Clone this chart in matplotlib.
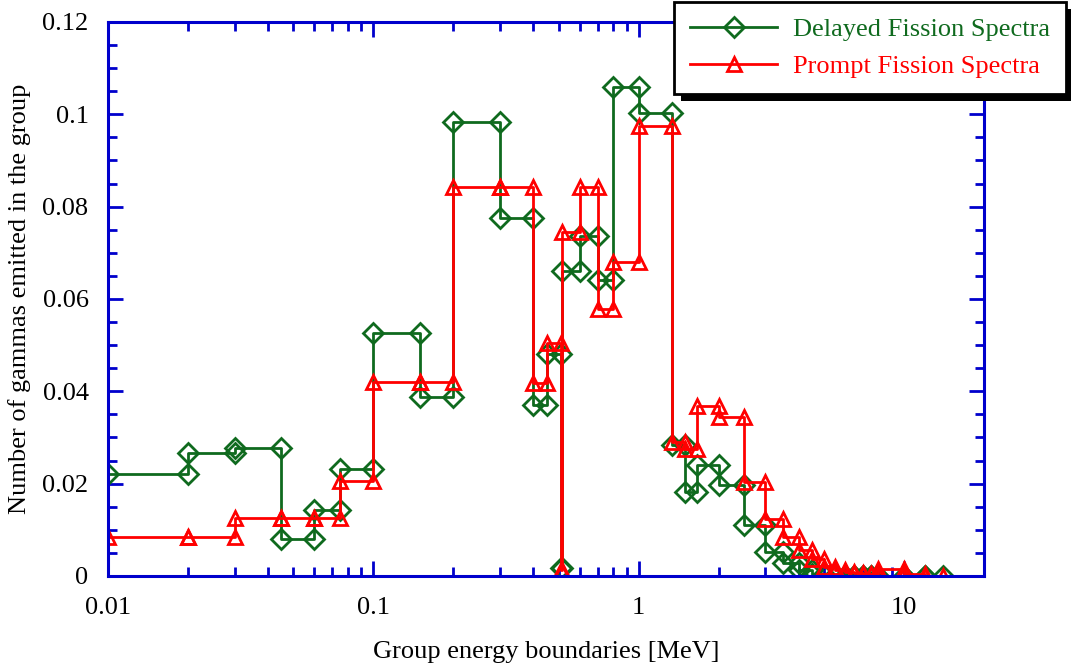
import numpy as np
import matplotlib
matplotlib.use("Agg")
import matplotlib.pyplot as plt
from matplotlib.ticker import FuncFormatter, LogLocator, MultipleLocator
from matplotlib.patches import Rectangle

# group energy boundaries [MeV]
bounds = [0.01, 0.02, 0.03, 0.045, 0.06, 0.075, 0.1, 0.15, 0.2, 0.3, 0.4, 0.45,
          0.51, 0.512, 0.6, 0.7, 0.8, 1.0, 1.33, 1.5, 1.66, 2.0, 2.5, 3.0, 3.5,
          4.0, 4.5, 5.0, 5.5, 6.0, 6.5, 7.0, 7.5, 8.0, 10.0, 12.0, 14.0]

# gammas emitted per group
delayed = [0.0220, 0.0266, 0.0278, 0.0081, 0.0144, 0.0232, 0.0526, 0.0388,
           0.0984, 0.0776, 0.0371, 0.0480, 0.0017, 0.0660, 0.0736, 0.0642,
           0.1060, 0.1003, 0.0283, 0.0182, 0.0241, 0.0198, 0.0110, 0.0051,
           0.0028, 0.0013, 0.0004, 0.0002, 0.0001, 0.0, 0.0, 0.0, 0.0, 0.0,
           0.0, 0.0]
prompt = [0.0085, 0.0085, 0.0125, 0.0125, 0.0125, 0.0206, 0.0420, 0.0420,
          0.0843, 0.0843, 0.0418, 0.0504, 0.0013, 0.0745, 0.0843, 0.0579,
          0.0680, 0.0975, 0.0290, 0.0276, 0.0368, 0.0345, 0.0204, 0.0123,
          0.0085, 0.0056, 0.0037, 0.0020, 0.0013, 0.0008, 0.0006, 0.0005,
          0.0005, 0.0015, 0.0005, 0.0001]

GREEN = "#0f6a1e"
RED = "#ff0000"
BLUE = "#0000cc"
FS = 19

plt.rcParams["font.family"] = ["Liberation Serif", "DejaVu Serif"]


def steps(edges, vals):
    # each group drawn from its lower to its upper boundary
    e = np.asarray(edges)
    v = np.asarray(vals)
    x = np.column_stack([e[:-1], e[1:]]).ravel()
    y = np.repeat(v, 2)
    return x, y


fig = plt.figure(figsize=(10.71, 6.70), dpi=100)
ax = fig.add_axes([0.1008, 0.1403, 0.8180, 0.8269])

xd, yd = steps(bounds, delayed)
xp, yp = steps(bounds, prompt)
ax.plot(xd, yd, color=GREEN, lw=2, marker="D", ms=10, mfc="none",
        mec=GREEN, mew=2, label="Delayed Fission Spectra")
ax.plot(xp, yp, color=RED, lw=2, marker="^", ms=9.5, mfc="none",
        mec=RED, mew=2, label="Prompt Fission Spectra")

ax.set_xscale("log")
ax.set_xlim(0.01, 20)
ax.set_ylim(0, 0.12)
ax.xaxis.set_major_locator(LogLocator(base=10))
ax.xaxis.set_minor_locator(LogLocator(base=10, subs=np.arange(2, 10)))
ax.xaxis.set_major_formatter(FuncFormatter(lambda v, p: "%g" % v))
ax.xaxis.set_minor_formatter(FuncFormatter(lambda v, p: ""))
ax.yaxis.set_major_locator(MultipleLocator(0.02))
ax.yaxis.set_minor_locator(MultipleLocator(0.005))
ax.yaxis.set_major_formatter(FuncFormatter(lambda v, p: "%g" % round(v, 4)))

for s in ax.spines.values():
    s.set_color(BLUE)
    s.set_linewidth(2.2)
ax.tick_params(which="both", direction="in", top=True, right=True,
               color=BLUE, width=2, labelsize=FS, labelcolor="black")
ax.tick_params(which="major", length=11)
ax.tick_params(which="minor", length=6.5)
ax.tick_params(axis="x", pad=15)
ax.tick_params(axis="y", pad=14)

ax.set_xlabel("Group energy boundaries [MeV]", fontsize=FS, labelpad=16)
ax.set_ylabel("Number of gammas emitted in the group", fontsize=FS, labelpad=8)

leg = fig.legend(loc="upper right", bbox_to_anchor=(1066 / 1071, 1 - 2 / 670),
                 fontsize=FS, numpoints=1, handlelength=3.3, fancybox=False,
                 framealpha=1, edgecolor="black", borderpad=0.6,
                 labelspacing=0.5, borderaxespad=0, handletextpad=0.6)
leg.get_frame().set_linewidth(2)
leg.set_zorder(10)
for txt, col in zip(leg.get_texts(), [GREEN, RED]):
    txt.set_color(col)

# hard black drop shadow behind the legend box
fig.canvas.draw()
bb = leg.get_frame().get_window_extent()
W, H = fig.bbox.width, fig.bbox.height
off = 7
shadow = Rectangle(((bb.x0 + off) / W, (bb.y0 - off) / H), bb.width / W,
                   bb.height / H, transform=fig.transFigure, facecolor="black",
                   edgecolor="none", zorder=9)
fig.patches.append(shadow)

fig.savefig("out.png", dpi=100)
